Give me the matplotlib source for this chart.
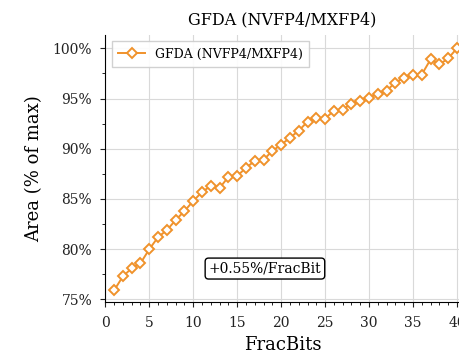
import matplotlib
matplotlib.use("Agg")
import matplotlib.pyplot as plt
from matplotlib.ticker import MultipleLocator, FuncFormatter

# --- data ---
frac_bits = list(range(1, 41))
area_pct = [
    75.9, 77.3, 78.1, 78.6, 80.0, 81.2, 81.9, 82.9, 83.8, 84.8,
    85.7, 86.3, 86.1, 87.2, 87.3, 88.1, 88.8, 88.9, 89.8, 90.4,
    91.1, 91.8, 92.7, 93.1, 93.0, 93.8, 93.9, 94.5, 94.8, 95.1,
    95.5, 95.8, 96.6, 97.1, 97.4, 97.4, 98.9, 98.4, 99.0, 100.0,
]
series_label = "GFDA (NVFP4/MXFP4)"
slope_text = "+0.55%/FracBit"

plt.rcParams['font.family'] = ['DejaVu Serif']
COLOR = '#f0922b'

fig = plt.figure(figsize=(4.6, 3.54), dpi=100)
ax = fig.add_axes([0.229, 0.148, 0.771, 0.753])

ax.plot(frac_bits, area_pct, color=COLOR, lw=1.4, marker='D', ms=5.5,
        mfc='white', mec=COLOR, mew=1.4, label=series_label)

ax.set_xlim(0, 40.35)
ax.set_ylim(74.78, 101.33)
ax.xaxis.set_major_locator(MultipleLocator(5))
ax.xaxis.set_minor_locator(MultipleLocator(1))
ax.yaxis.set_major_locator(MultipleLocator(5))
ax.yaxis.set_minor_locator(MultipleLocator(2.5))
ax.yaxis.set_major_formatter(FuncFormatter(lambda v, p: f"{v:.0f}%"))
ax.tick_params(labelsize=10, colors='#222222')
ax.tick_params(axis='x', which='major', pad=7)
ax.tick_params(axis='y', which='major', pad=6)

ax.grid(True, which='major', color='#d9d9d9', lw=0.8)
ax.set_axisbelow(True)
for s in ['top', 'right']:
    ax.spines[s].set_visible(False)

ax.set_title(series_label, fontsize=11.5, pad=8)
ax.set_xlabel("FracBits", fontsize=13, labelpad=4)
ax.set_ylabel("Area (% of max)", fontsize=13, labelpad=7)

ax.legend(loc='upper left', fontsize=9, fancybox=False, framealpha=0.9,
          edgecolor='#cccccc', borderpad=0.5, handlelength=2.2)

ax.text(0.45, 0.124, slope_text, transform=ax.transAxes, fontsize=10,
        ha='center', va='center',
        bbox=dict(boxstyle='round,pad=0.25', fc='white', ec='black', lw=1.0))

fig.savefig("out.png", dpi=100)
